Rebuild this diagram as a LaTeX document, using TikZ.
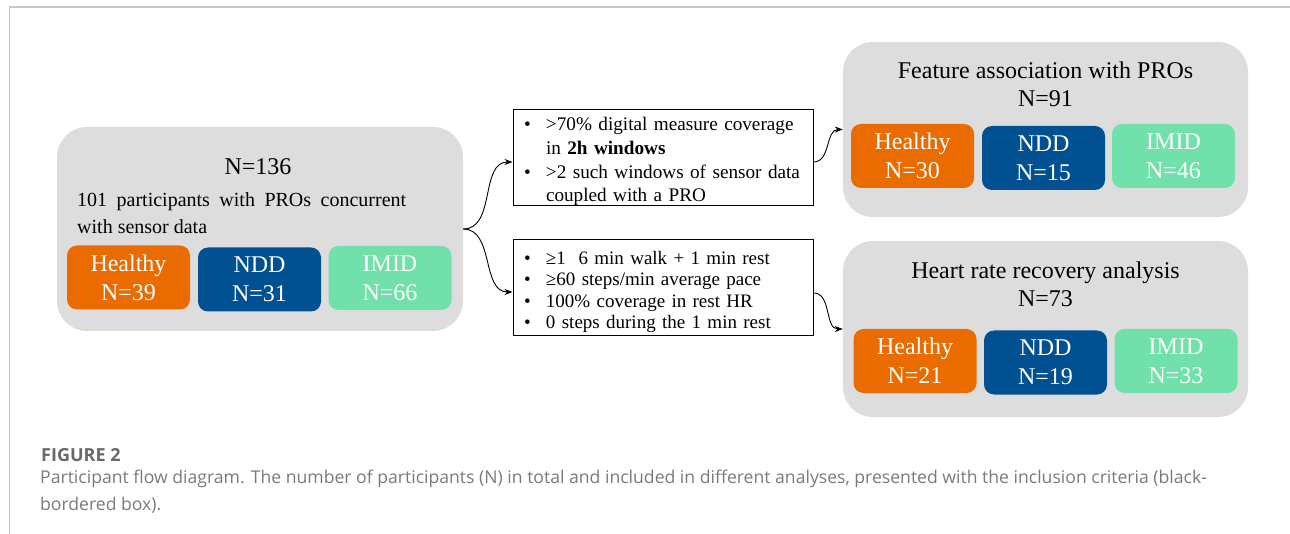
\documentclass[tikz,border=0pt]{standalone}
\usepackage{fontspec}
\setmainfont{Liberation Serif}
\newfontfamily\capfont{Open Sans}
\usetikzlibrary{arrows.meta}

\definecolor{healthycol}{RGB}{234,108,0}
\definecolor{nddcol}{RGB}{1,80,145}
\definecolor{imidcol}{RGB}{114,224,170}
\definecolor{panelcol}{RGB}{221,221,221}
\definecolor{framecol}{RGB}{200,200,200}
\definecolor{capcol}{RGB}{122,122,122}

\newcommand{\critline}[1]{\mbox{\makebox[22pt][l]{\textbullet}#1}}

\tikzset{
  panel/.style={fill=panelcol, rounded corners=30pt, inner sep=0pt},
  grp/.style={rounded corners=10pt, minimum width=123pt, minimum height=64pt,
    inner sep=0pt, text=white, align=center, font=\fontsize{24}{29}\selectfont},
  healthy/.style={grp, fill=healthycol},
  ndd/.style={grp, fill=nddcol},
  imid/.style={grp, fill=imidcol},
  crit/.style={draw, line width=1pt, minimum width=300pt, minimum height=96pt,
    inner xsep=11pt, inner ysep=0pt, text width=278pt, align=left},
  flow/.style={-{Stealth[length=8pt,width=6pt]}, line width=0.9pt},
}

\begin{document}
\begin{tikzpicture}[x=1pt,y=-1pt]
\useasboundingbox (0,0) rectangle (1290,534);
\draw[framecol, line width=1.5pt] (9.5,534) |- (1290,7);

% all participants
\node[panel, minimum width=406pt, minimum height=204pt] (all) at (260,229) {};
\node (n136) at (258,167) {\fontsize{24}{29}\selectfont N=136};
\node[anchor=north west, inner sep=0pt, align=left, font=\fontsize{20}{27}\selectfont] (desc) at (77,192)
  {\makebox[329pt][s]{101 participants with PROs concurrent}\\with sensor data};
\node[healthy] (h0) at (128.5,277.5) {Healthy\\N=39};
\node[ndd] (n0) at (259.5,279.5) {NDD\\N=31};
\node[imid] (i0) at (390,278) {IMID\\N=66};

% inclusion criteria
\node[crit, font=\fontsize{19.2}{23.7}\selectfont] (crit1) at (663,158)
  {\critline{\rule{0pt}{20.5pt}>70\% digital measure coverage}\\
   \mbox{\hspace*{22pt}in \textbf{2h windows}}\\
   \critline{>2 such windows of sensor data}\\
   \mbox{\hspace*{22pt}coupled with a PRO}};
\node[crit, font=\fontsize{19}{21.3}\selectfont] (crit2) at (663,288)
  {\critline{\rule{0pt}{21pt}≥1\ \ 6 min walk + 1 min rest}\\
   \critline{≥60 steps/min average pace}\\
   \critline{100\% coverage in rest HR}\\
   \critline{0 steps during the 1 min rest}};

% feature association
\node[panel, minimum width=405pt, minimum height=175pt] (feat) at (1045.5,129.5) {};
\node[align=center, font=\fontsize{24}{28}\selectfont] (feattitle) at (1045.5,84)
  {Feature association with PROs\\N=91};
\node[healthy] (h1) at (912.5,156) {Healthy\\N=30};
\node[ndd] (n1) at (1043.5,158) {NDD\\N=15};
\node[imid] (i1) at (1173.5,156) {IMID\\N=46};

% heart rate recovery
\node[panel, minimum width=405pt, minimum height=176pt] (hrr) at (1045.5,329) {};
\node[align=center, font=\fontsize{24}{28}\selectfont] (hrrtitle) at (1045.5,284)
  {Heart rate recovery analysis\\N=73};
\node[healthy] (h2) at (915,361) {Healthy\\N=21};
\node[ndd] (n2) at (1045.5,362.5) {NDD\\N=19};
\node[imid] (i2) at (1176,361) {IMID\\N=33};

\draw[flow] (all.east) to[out=0,in=180] ([yshift=-4pt]crit1.west);
\draw[flow] (all.east) to[out=0,in=180] ([yshift=-4pt]crit2.west);
\draw[flow] ([yshift=-4pt]crit1.east) to[out=0,in=180] (feat.west);
\draw[flow] ([yshift=-5pt]crit2.east) to[out=0,in=180] (hrr.west);

% caption
\node[anchor=base west, inner sep=0pt, text=capcol!85!black, font=\capfont\bfseries\fontsize{18}{20}\selectfont] (figlab) at (41,461) {FIGURE 2};
\node[anchor=north west, inner sep=0pt, align=left, text=capcol, font=\capfont\fontsize{17.6}{26.5}\selectfont] (figcap) at (40,470)
  {Participant flow diagram. The number of participants (N) in total and included in different analyses, presented with the inclusion criteria (black-\\bordered box).};
\end{tikzpicture}
\end{document}
